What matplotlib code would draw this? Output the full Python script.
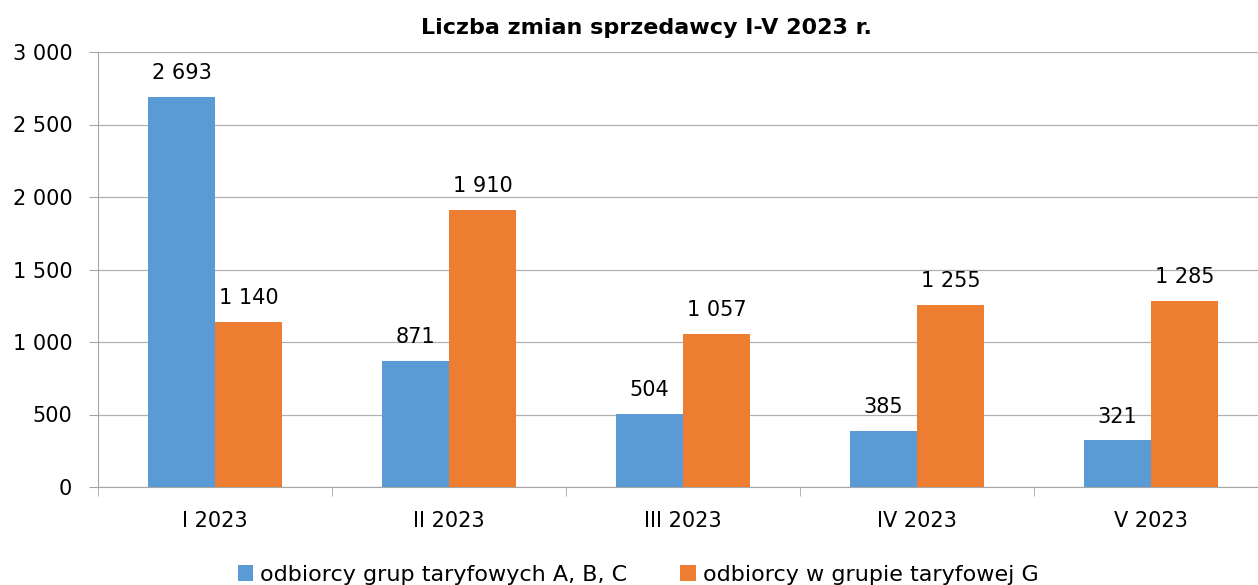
import numpy as np
import matplotlib
matplotlib.use('Agg')
import matplotlib.pyplot as plt

# liczba zmian sprzedawcy, I-V 2023
months = ["I 2023", "II 2023", "III 2023", "IV 2023", "V 2023"]
abc = [2693, 871, 504, 385, 321]
grupa_g = [1140, 1910, 1057, 1255, 1285]
labels = ["odbiorcy grup taryfowych A, B, C", "odbiorcy w grupie taryfowej G"]


def fmt(v):
    return f"{v:,}".replace(",", " ")


fig = plt.figure(figsize=(12.58, 5.85), dpi=100)
ax = fig.add_axes([98/1258, 1-487/585, 1170/1258, (487-52)/585])

x = np.arange(len(months))
w = 0.286
b1 = ax.bar(x - w/2, abc, w, color="#5B9BD5", label=labels[0], zorder=3)
b2 = ax.bar(x + w/2, grupa_g, w, color="#ED7D31", label=labels[1], zorder=3)

for bars, vals in ((b1, abc), (b2, grupa_g)):
    for r, v in zip(bars, vals):
        ax.text(r.get_x() + r.get_width()/2, v + 95, fmt(v),
                ha="center", va="bottom", fontsize=15, zorder=4)

ax.set_xlim(-0.5, 4.5)
ax.set_ylim(0, 3000)
ax.set_yticks(range(0, 3001, 500))
ax.set_yticklabels([fmt(v) for v in range(0, 3001, 500)], fontsize=15)
ax.set_xticks(x)
ax.set_xticklabels(months, fontsize=15)
ax.set_xticks(np.arange(-0.5, 4.6, 1), minor=True)
ax.tick_params(axis="x", which="major", length=0, pad=17)
ax.tick_params(axis="x", which="minor", length=6.5, color="#A6A6A6")
ax.tick_params(axis="y", length=6.5, color="#A6A6A6", pad=12)
ax.grid(axis="y", color="#B0B0B0", linewidth=0.9, zorder=0)
for s in ("top", "right"):
    ax.spines[s].set_visible(False)
for s in ("left", "bottom"):
    ax.spines[s].set_color("#A6A6A6")

fig.text(646/1258, 1-28/585, "Liczba zmian sprzedawcy I-V 2023 r.",
         ha="center", va="center", fontsize=16, fontweight="bold")

# legenda na dole, jak w oryginale lekko przycieta
fig.legend(loc="center", bbox_to_anchor=(638/1258, 1-575/585), ncol=2,
           frameon=False, fontsize=16, handlelength=0.7, handleheight=0.7,
           handletextpad=0.3, columnspacing=2.4)

fig.savefig("out.png", dpi=100)
